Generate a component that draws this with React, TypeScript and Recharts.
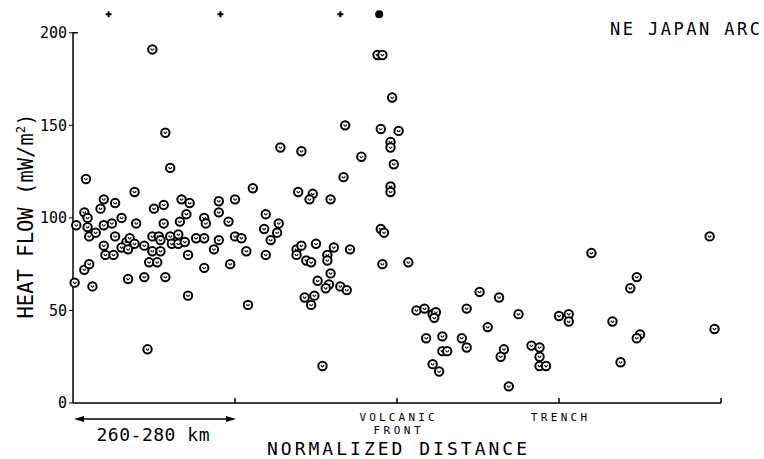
import { ScatterChart, Scatter, XAxis, YAxis, ReferenceLine } from "recharts";

// back-arc side (left of 260-280 km band)
const backArcDistance = [
  0.49, 0.57, 0.6, 0.08, 0.38, 1.11, 0.19, 0.17, 0.26, 0.5, 0.56, 0.67, 0.72, 0.9, 0.9, 1.0,
  0.07, 0.09, 0.3, 0.7, 0.81, 0.82, 0.96, 0.66, 0.39, 0.56, 0.02, 0.09, 0.19, 0.24, 0.1, 0.14,
  0.26, 0.33, 0.35, 0.3, 0.34, 0.38, 0.44, 0.49, 0.49, 0.53, 0.54, 0.54, 0.6, 0.61, 0.65, 0.65,
  0.69, 0.76, 0.81, 0.9, 0.87, 1.0, 1.04, 1.07, 0.71, 0.19, 0.2, 0.25, 0.47, 0.52, 0.81, 0.97,
  0.07, 0.1, 0.01, 0.12, 0.34, 0.44, 0.57, 0.71, 1.08, 0.46,
];
const backArcHeatFlow = [
  191, 146, 127, 121, 114, 116, 110, 105, 108, 105, 107, 110, 108, 109, 103, 110,
  103, 100, 100, 102, 100, 97, 98, 98, 97, 97, 96, 95, 96, 97, 90, 92,
  90, 87, 89, 84, 83, 86, 85, 82, 90, 90, 88, 82, 90, 86, 91, 86,
  87, 89, 89, 88, 83, 90, 89, 82, 80, 85, 80, 80, 76, 76, 73, 75,
  72, 75, 65, 63, 67, 68, 68, 58, 53, 29,
];

// near the volcanic front
const frontDistance = [
  1.68, 1.28, 1.41, 1.78, 1.67, 1.39, 1.48, 1.46, 1.59, 1.19, 1.27, 1.18, 1.26, 1.22, 1.19, 1.38,
  1.41, 1.38, 1.5, 1.61, 1.71, 1.57, 1.57, 1.44, 1.47, 1.59, 1.51, 1.58, 1.56, 1.65, 1.69, 1.49,
  1.43, 1.47, 1.54, 1.88, 1.91, 1.97, 1.9, 2.01, 1.96, 1.96, 1.98, 1.96, 1.96, 1.9, 1.92, 1.91,
  2.07,
];
const frontHeatFlow = [
  150, 138, 136, 133, 122, 114, 113, 110, 110, 102, 97, 94, 92, 88, 80, 83,
  85, 80, 86, 84, 83, 80, 77, 77, 76, 70, 66, 64, 62, 63, 61, 58,
  57, 53, 20, 188, 188, 165, 148, 147, 141, 138, 129, 117, 114, 94, 92, 75,
  76,
];

// fore-arc and trench
const foreArcDistance = [
  2.51, 2.63, 2.12, 2.17, 2.22, 2.24, 2.23, 2.43, 2.56, 2.18, 2.28, 2.4, 2.43, 2.28, 2.31, 2.22,
  2.26, 2.66, 2.64, 2.69, 2.75, 2.83, 2.88, 2.88, 2.88, 2.92, 3.0, 3.06, 3.06, 3.2, 3.33, 3.38,
  3.48, 3.44, 3.5, 3.48, 3.93, 3.96,
];
const foreArcHeatFlow = [
  60, 57, 50, 51, 48, 49, 46, 51, 41, 35, 36, 35, 30, 28, 28, 21,
  17, 29, 25, 9, 48, 31, 30, 25, 20, 20, 47, 48, 44, 81, 44, 22,
  68, 62, 37, 35, 90, 40,
];

// values above 200, drawn at the top edge
const offScaleCrossDistance = [0.22, 0.91, 1.65];
const offScaleDotDistance = [1.89];
const offScaleLevel = 210;

const xTicks = [0, 1, 2, 3, 4];
const xTickLabels = [[], [], ["VOLCANIC", "FRONT"], ["TRENCH"], []];
const yTicks = [0, 50, 100, 150, 200];

const mono = "'DejaVu Sans Mono', monospace";

const toPoints = (xs: number[], ys: number[]) => xs.map((x, i) => ({ x, y: ys[i] }));

const HollowMark = (props: any) => {
  const { cx, cy } = props;
  return (
    <g>
      <circle cx={cx} cy={cy} r={4.2} fill="#fff" stroke="#000" strokeWidth={2} />
      <path
        d={`M${cx - 1.6},${cy - 0.9} Q${cx},${cy + 2.6} ${cx + 1.6},${cy - 0.9}`}
        fill="none"
        stroke="#000"
        strokeWidth={1.1}
      />
    </g>
  );
};

const CrossMark = (props: any) => {
  const { cx, cy } = props;
  return (
    <g stroke="#000" strokeWidth={2}>
      <line x1={cx - 3} y1={cy} x2={cx + 3} y2={cy} />
      <line x1={cx} y1={cy - 3} x2={cx} y2={cy + 3} />
    </g>
  );
};

const DotMark = (props: any) => <circle cx={props.cx} cy={props.cy} r={4} fill="#000" />;

const DistanceTick = (props: any) => {
  const { x, y, payload } = props;
  const i = xTicks.indexOf(payload.value);
  if (i <= 0) return null;
  return (
    <g>
      <line x1={x} y1={y} x2={x} y2={y - 5} stroke="#000" strokeWidth={1.5} />
      {xTickLabels[i].map((t, k) => (
        <text
          key={t}
          x={x}
          y={y + 18 + k * 13}
          textAnchor="middle"
          fontFamily={mono}
          fontSize={11}
          textLength={t.length * 9.4}
          lengthAdjust="spacing"
          fill="#000"
        >
          {t}
        </text>
      ))}
    </g>
  );
};

export default function App() {
  return (
    <div style={{ position: "absolute", left: 0, top: 0, width: 764, height: 459, background: "#fff" }}>
      <ScatterChart width={764} height={459} margin={{ top: 5, right: 43, bottom: 26, left: 13 }}>
        <XAxis
          type="number"
          dataKey="x"
          domain={[0, 4]}
          ticks={xTicks}
          interval={0}
          height={30}
          tickLine={false}
          tickSize={0}
          tickMargin={0}
          axisLine={{ stroke: "#000", strokeWidth: 1.5 }}
          tick={<DistanceTick />}
        />
        <YAxis
          type="number"
          dataKey="y"
          domain={[0, 215]}
          ticks={yTicks}
          interval={0}
          width={60}
          axisLine={false}
          tickLine={{ stroke: "#000" }}
          tickSize={4}
          tick={{ fill: "#000", fontSize: 15, fontFamily: mono }}
        />
        <ReferenceLine segment={[{ x: 0, y: 0 }, { x: 0, y: 200 }]} stroke="#000" strokeWidth={1.5} />
        <ReferenceLine segment={[{ x: 0, y: 200 }, { x: 0.03, y: 200 }]} stroke="#000" strokeWidth={1.5} />
        <Scatter data={toPoints(backArcDistance, backArcHeatFlow)} shape={HollowMark} isAnimationActive={false} />
        <Scatter data={toPoints(frontDistance, frontHeatFlow)} shape={HollowMark} isAnimationActive={false} />
        <Scatter data={toPoints(foreArcDistance, foreArcHeatFlow)} shape={HollowMark} isAnimationActive={false} />
        <Scatter
          data={offScaleCrossDistance.map((x) => ({ x, y: offScaleLevel }))}
          shape={CrossMark}
          isAnimationActive={false}
        />
        <Scatter
          data={offScaleDotDistance.map((x) => ({ x, y: offScaleLevel }))}
          shape={DotMark}
          isAnimationActive={false}
        />
      </ScatterChart>

      <svg
        width={764}
        height={459}
        style={{ position: "absolute", left: 0, top: 0, pointerEvents: "none" }}
        fontFamily={mono}
        fill="#000"
      >
        <text x={610} y={35} fontSize={17} textLength={150} lengthAdjust="spacing">
          NE JAPAN ARC
        </text>
        <text
          x={33}
          y={216}
          transform="rotate(-90 33 216)"
          textAnchor="middle"
          fontSize={22}
          textLength={205}
          lengthAdjust="spacingAndGlyphs"
        >
          HEAT FLOW (mW/m<tspan dy={-8} fontSize={13}>2</tspan>
          <tspan dy={8}>)</tspan>
        </text>
        <line x1={78} y1={419} x2={231} y2={419} stroke="#000" strokeWidth={1.5} />
        <path d="M74,419 L84,416 L84,422 Z" />
        <path d="M236,419 L226,416 L226,422 Z" />
        <text x={153} y={441} textAnchor="middle" fontSize={18} textLength={113} lengthAdjust="spacing">
          260-280 km
        </text>
        <text x={397} y={455} textAnchor="middle" fontSize={18} textLength={260} lengthAdjust="spacing">
          NORMALIZED DISTANCE
        </text>
      </svg>
    </div>
  );
}
